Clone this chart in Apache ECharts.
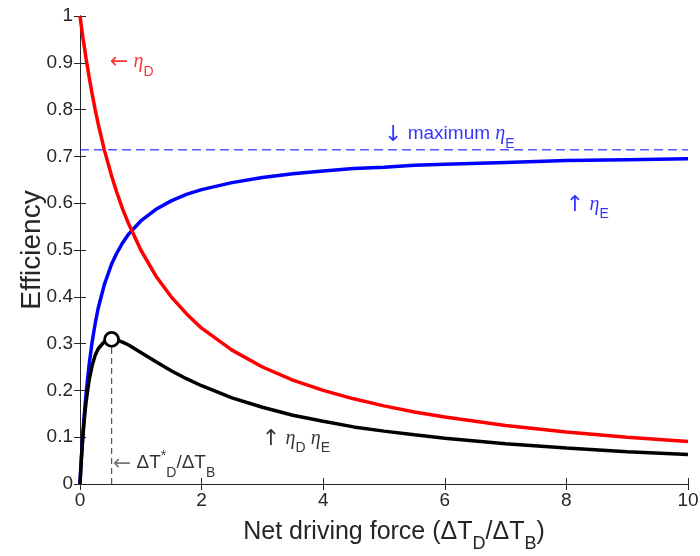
<!DOCTYPE html>
<html><head><meta charset="utf-8">
<script src="https://cdn.jsdelivr.net/npm/echarts@6/dist/echarts.min.js"></script>
<style>html,body{margin:0;padding:0;background:#fff}#c{width:700px;height:556px}</style>
</head><body><div id="c"></div>
<script>
// Net driving force samples (ΔT_D/ΔT_B)
const xs = [0, 0.01, 0.02, 0.03, 0.05, 0.07, 0.1, 0.15, 0.2, 0.25, 0.3, 0.4, 0.52, 0.6, 0.7, 0.8, 1, 1.25, 1.5, 1.75, 2, 2.5, 3, 3.5, 4, 4.5, 5, 5.5, 6, 7, 8, 9, 10];
// η_D (red)
const etaD = [1, 0.990, 0.980, 0.971, 0.952, 0.935, 0.909, 0.870, 0.833, 0.800, 0.769, 0.714, 0.658, 0.625, 0.588, 0.556, 0.500, 0.444, 0.400, 0.364, 0.333, 0.286, 0.250, 0.222, 0.200, 0.182, 0.167, 0.154, 0.143, 0.125, 0.111, 0.100, 0.091];
// η_E (blue)
const etaE = [0, 0.026, 0.049, 0.071, 0.112, 0.147, 0.193, 0.255, 0.304, 0.343, 0.376, 0.426, 0.470, 0.492, 0.515, 0.534, 0.562, 0.587, 0.605, 0.619, 0.629, 0.644, 0.655, 0.663, 0.669, 0.674, 0.677, 0.681, 0.683, 0.687, 0.691, 0.693, 0.695];
// η_D η_E (black)
const etaDE = [0, 0.025, 0.048, 0.069, 0.106, 0.137, 0.175, 0.222, 0.253, 0.275, 0.289, 0.304, 0.309, 0.308, 0.303, 0.297, 0.281, 0.261, 0.242, 0.225, 0.210, 0.184, 0.164, 0.147, 0.134, 0.122, 0.113, 0.105, 0.098, 0.086, 0.077, 0.069, 0.063];
const etaEMax = 0.714;
const peakX = 0.52, peakY = 0.309;
const xTicks = [0, 2, 4, 6, 8, 10];
const yTicks = [0, 0.1, 0.2, 0.3, 0.4, 0.5, 0.6, 0.7, 0.8, 0.9, 1];

const pts = ys => xs.map((x, i) => [x, ys[i]]);
const AX = '#262626';
const SANS = 'Liberation Sans, Arial, Helvetica, sans-serif';
const SERIF = 'Liberation Serif, DejaVu Serif, serif';

function richFor(color, size) {
  const sub = Math.round(size * 0.74);
  return {
    a: {fontFamily: 'DejaVu Sans', fontSize: size + 3, color: color, lineHeight: size, padding: [4, 0, 0, 0], verticalAlign: 'top'},
    t: {fontFamily: SANS, fontSize: size, color: color, lineHeight: size, padding: [4, 0, 0, 0], verticalAlign: 'top'},
    e: {fontFamily: SERIF, fontStyle: 'italic', fontSize: size + 1, color: color, lineHeight: size, padding: [4, 0, 0, 0], verticalAlign: 'top'},
    s: {fontFamily: SANS, fontSize: sub, color: color, lineHeight: sub, padding: [size - 2, 0, 0, 0], verticalAlign: 'top'},
    p: {fontFamily: SANS, fontSize: sub, color: color, lineHeight: sub, padding: [0, 0, 0, 0], verticalAlign: 'top'},
    g: {fontFamily: 'DejaVu Sans', fontSize: size + 3, color: '#555', lineHeight: size, padding: [4, 0, 0, 0], verticalAlign: 'top'}
  };
}
const annotations = [
  {value: [0.49, 0.912], text: '{a|←}{t| }{e|η}{s|D}', color: '#ff0000'},
  {value: [5.0, 0.757], text: '{a|↓}{t| maximum }{e|η}{s|E}', color: '#0000ff'},
  {value: [7.99, 0.607], text: '{a|↑}{t| }{e|η}{s|E}', color: '#0000ff'},
  {value: [2.99, 0.107], text: '{a|↑}{t| }{e|η}{s|D}{t| }{e|η}{s|E}', color: '#000000'},
  {value: [0.54, 0.054], text: '{g|←}{t| ΔT}{p|*}{s|D}{t|/ΔT}{s|B}', color: '#000000'}
];

const chart = echarts.init(document.getElementById('c'), null, {renderer: 'canvas'});
const tickStyle = {show: true, inside: true, length: 6, lineStyle: {color: AX, width: 1}};
chart.setOption({
  animation: false,
  backgroundColor: '#fff',
  grid: {left: 80, right: 12, top: 16, bottom: 72, containLabel: false, outerBoundsMode: 'none'},
  xAxis: [{
    type: 'value', min: 0, max: 10, interval: 2, position: 'bottom',
    axisLine: {show: true, lineStyle: {color: AX, width: 1}},
    axisTick: tickStyle, splitLine: {show: false},
    axisLabel: {color: AX, fontSize: 19, fontFamily: SANS, margin: 7,
      formatter: v => xTicks.includes(v) ? String(v) : ''},
    name: '{n0|Net driving force (ΔT}{s|D}{n|/ΔT}{s|B}{n|)}',
    nameLocation: 'middle', nameGap: 36, nameMoveOverlap: false,
    nameTextStyle: {rich: {
      n0: {fontFamily: SANS, fontSize: 25, color: AX, lineHeight: 25, verticalAlign: 'top', padding: [0, 0, 0, 20]},
      n: {fontFamily: SANS, fontSize: 25, color: AX, lineHeight: 25, verticalAlign: 'top'},
      s: {fontFamily: SANS, fontSize: 18, color: AX, lineHeight: 18, padding: [15, 0, 0, 0], verticalAlign: 'top'}
    }}
  }, {
    type: 'value', min: 0, max: 10, interval: 2, position: 'top',
    axisLine: {show: true, lineStyle: {color: AX, width: 1}},
    axisTick: tickStyle, axisLabel: {show: false}, splitLine: {show: false}
  }],
  yAxis: [{
    type: 'value', min: 0, max: 1, interval: 0.1, position: 'left',
    axisLine: {show: true, lineStyle: {color: AX, width: 1}},
    axisTick: tickStyle, splitLine: {show: false},
    axisLabel: {color: AX, fontSize: 19, fontFamily: SANS, margin: 7,
      formatter: v => { const t = yTicks.find(y => Math.abs(y - v) < 1e-9); return t === undefined ? '' : String(t); }},
    name: 'Efficiency', nameLocation: 'middle', nameGap: 34, nameMoveOverlap: false,
    nameTextStyle: {fontFamily: SANS, fontSize: 28, color: AX}
  }, {
    type: 'value', min: 0, max: 1, interval: 0.1, position: 'right',
    axisLine: {show: true, lineStyle: {color: AX, width: 1}},
    axisTick: tickStyle, axisLabel: {show: false}, splitLine: {show: false}
  }],
  series: [
    {
      name: 'maxE', type: 'line', data: [[0, etaEMax], [10, etaEMax]], showSymbol: false, silent: true,
      lineStyle: {color: '#0000ff', width: 1, type: [9, 5]}, itemStyle: {color: '#0000ff'}, z: 1
    },
    {
      name: 'ηE', type: 'line', data: pts(etaE), showSymbol: false, smooth: false,
      lineStyle: {color: '#0000ff', width: 3.5}, itemStyle: {color: '#0000ff'}, z: 2
    },
    {
      name: 'ηD', type: 'line', data: pts(etaD), showSymbol: false, smooth: false,
      lineStyle: {color: '#ff0000', width: 3.5}, itemStyle: {color: '#ff0000'}, z: 3
    },
    {
      name: 'peakLine', type: 'line', data: [[peakX, 0], [peakX, peakY]], showSymbol: false, silent: true,
      lineStyle: {color: '#555555', width: 1.2, type: [6, 4]}, itemStyle: {color: '#555555'}, z: 3
    },
    {
      name: 'ηDηE', type: 'line', data: pts(etaDE), showSymbol: false, smooth: false,
      lineStyle: {color: '#000000', width: 3.5}, itemStyle: {color: '#000000'}, z: 4
    },
    {
      name: 'peak', type: 'scatter', data: [[peakX, peakY]], symbol: 'circle', symbolSize: 14,
      itemStyle: {color: '#ffffff', borderColor: '#000000', borderWidth: 2.8, opacity: 1}, z: 6
    },
    {
      name: 'labels', type: 'scatter', symbolSize: 0, z: 7, silent: true,
      data: annotations.map(a => ({
        value: a.value,
        label: {show: true, position: 'right', distance: 0, formatter: a.text, rich: richFor(a.color, 19)}
      }))
    }
  ]
});
</script></body></html>
